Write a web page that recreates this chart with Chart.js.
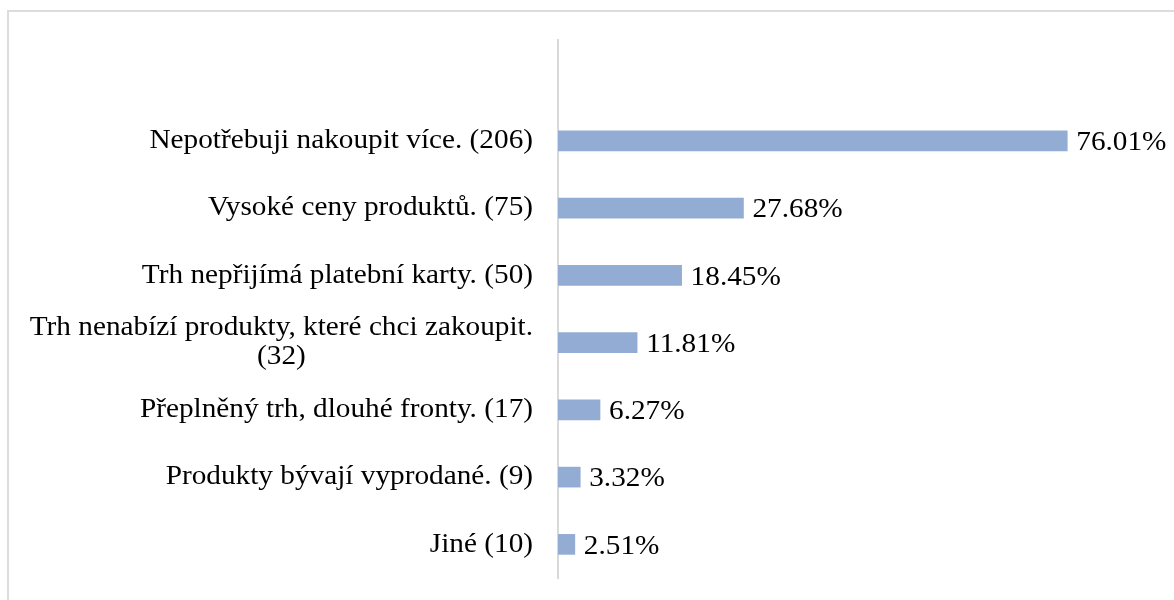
<!DOCTYPE html>
<html>
<head>
<meta charset="utf-8">
<script src="https://cdn.jsdelivr.net/npm/chart.js@4"></script>
<style>
  body { margin: 0; background: #fff; }
  #wrap { position: relative; width: 1174px; height: 600px; overflow: hidden; }
  #frame { position: absolute; left: 7px; top: 10px; width: 1300px; height: 700px;
           border-top: 2px solid #dcdcdc; border-left: 2px solid #dcdcdc; }
  #chart { position: absolute; left: 0; top: 0; }
</style>
</head>
<body>
<div id="wrap">
  <div id="frame"></div>
  <canvas id="chart" width="1174" height="600"></canvas>
</div>
<script>
// Kategorie (první prázdná = volný řádek nad grafem)
const categories = [
    '',
    'Nepotřebuji nakoupit více. (206)',
    'Vysoké ceny produktů. (75)',
    'Trh nepřijímá platební karty. (50)',
    ['Trh nenabízí produkty, které chci zakoupit.', '(32)'],
    'Přeplněný trh, dlouhé fronty. (17)',
    'Produkty bývají vyprodané. (9)',
    'Jiné (10)'
];
// Podíl odpovědí v %
const shares = [null, 76.01, 27.68, 18.45, 11.81, 6.27, 3.32, 2.51];

const fontFamily = '"Liberation Serif", "Times New Roman", serif';
const fontSize = 28;
const stretch = 1.045; // písmo v předloze je o něco širší

function drawText(ctx, text, x, y) {
    ctx.save();
    ctx.translate(x, y);
    ctx.scale(stretch, 1);
    ctx.fillText(text, 0, 0);
    ctx.restore();
}

// Popisky kategorií - blok zarovnaný doprava, řádky na střed
const categoryLabels = {
    id: 'categoryLabels',
    afterDraw(chart) {
        const ctx = chart.ctx;
        const yScale = chart.scales.y;
        const right = chart.chartArea.left - 25;
        ctx.save();
        ctx.font = fontSize + 'px ' + fontFamily;
        ctx.fillStyle = '#000';
        ctx.textBaseline = 'middle';
        ctx.textAlign = 'center';
        categories.forEach((lab, i) => {
            if (!lab) return;
            const lines = Array.isArray(lab) ? lab : [lab];
            const w = Math.max(...lines.map(l => ctx.measureText(l).width)) * stretch;
            const cx = right - w / 2;
            const y = yScale.getPixelForValue(i);
            const lh = 29;
            const y0 = y - (lines.length - 1) * lh / 2;
            lines.forEach((l, j) => drawText(ctx, l, cx, y0 + j * lh));
        });
        ctx.restore();
    }
};

// Hodnoty za sloupci
const valueLabels = {
    id: 'valueLabels',
    afterDatasetsDraw(chart) {
        const ctx = chart.ctx;
        const meta = chart.getDatasetMeta(0);
        ctx.save();
        ctx.font = fontSize + 'px ' + fontFamily;
        ctx.fillStyle = '#000';
        ctx.textBaseline = 'middle';
        ctx.textAlign = 'left';
        meta.data.forEach((bar, i) => {
            if (shares[i] == null) return;
            drawText(ctx, shares[i].toFixed(2) + '%', bar.x + 9, bar.y + 2);
        });
        ctx.restore();
    }
};

new Chart(document.getElementById('chart'), {
    type: 'bar',
    data: {
        labels: categories,
        datasets: [{
            data: shares,
            backgroundColor: '#93acd3',
            barThickness: 20
        }]
    },
    options: {
        indexAxis: 'y',
        responsive: false,
        animation: false,
        layout: { padding: { left: 550, right: 13, top: 40, bottom: 22 } },
        plugins: { legend: { display: false }, tooltip: { enabled: false } },
        scales: {
            x: { display: false, min: 0, max: 90 },
            y: {
                ticks: { display: false },
                grid: { display: false },
                border: { display: true, color: '#d9d9d9', width: 2 }
            }
        }
    },
    plugins: [categoryLabels, valueLabels]
});
</script>
</body>
</html>
